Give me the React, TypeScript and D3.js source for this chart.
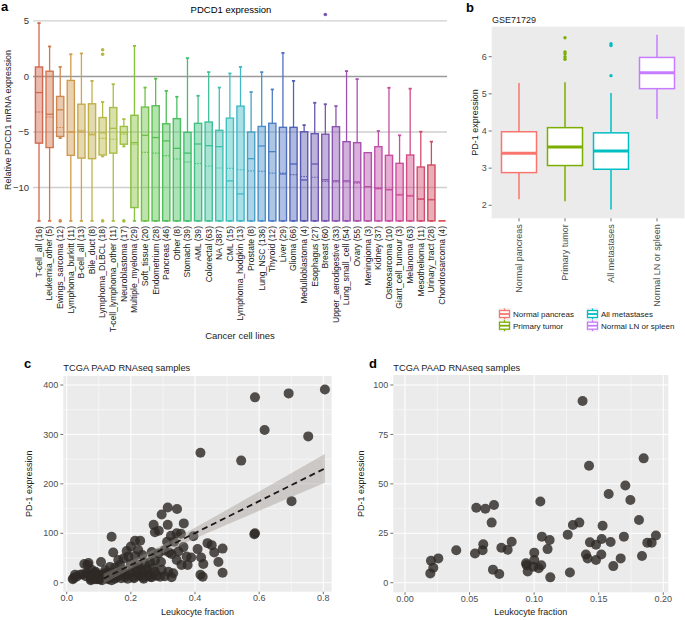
import React from 'react';
import * as d3 from 'd3';

const FONT = '"Liberation Sans", Arial, Helvetica, sans-serif';

// ---------- Panel a data ----------
const aCategories = ['T-cell_all', 'Leukemia_other', 'Ewings_sarcoma', 'Lymphoma_burkitt', 'B-cell_all', 'Bile_duct', 'Lymphoma_DLBCL', 'T-cell_lymphoma_other', 'Neuroblastoma', 'Multiple_myeloma', 'Soft_tissue', 'Endometrium', 'Pancreas', 'Other', 'Stomach', 'AML', 'Colorectal', 'NA', 'CML', 'Lymphoma_hodgkin', 'Prostate', 'Lung_NSC', 'Thyroid', 'Liver', 'Glioma', 'Medulloblastoma', 'Esophagus', 'Breast', 'Upper_aerodigestive', 'Lung_small_cell', 'Ovary', 'Meningioma', 'Kidney', 'Osteosarcoma', 'Giant_cell_tumour', 'Melanoma', 'Mesothelioma', 'Urinary_tract', 'Chondrosarcoma'];
const aCounts = [16, 5, 12, 11, 13, 8, 18, 11, 17, 29, 20, 28, 46, 8, 39, 39, 63, 387, 15, 13, 8, 136, 12, 29, 66, 4, 27, 60, 33, 54, 55, 3, 37, 10, 3, 63, 11, 28, 4];
const aWhiskerHigh = [4.8, 2.7, 0.86, 2.0, 2.07, -0.4, -2.3, -0.7, -3.84, 2.75, -1.0, -0.2, -1.3, -1.83, 1.65, -1.74, 0.39, -1.0, 0.27, 0.86, -1.4, 0.39, -1.17, 2.12, -0.4, -4.38, -2.37, -2.5, -2.67, 0.48, -0.24, -6.86, -4.91, -1.02, -5.3, -1.1, -4.97, -5.87, -13];
const aQ3 = [0.85, 0.47, -1.8, -0.36, -2.5, -2.46, -3.7, -2.8, -4.5, -3.5, -2.76, -2.64, -4.26, -3.8, -5.03, -4.22, -4.1, -4.85, -3.75, -2.67, -5.0, -4.5, -4.22, -4.58, -4.58, -4.98, -5.15, -5.2, -4.52, -5.87, -5.96, -6.86, -6.32, -7.1, -7.82, -7.07, -8.15, -7.97, -13];
const aMedian = [-1.45, -3.4, -3.0, -5.0, -5.0, -5.25, -5.07, -4.67, -5.05, -5.96, -5.3, -5.5, -5.8, -6.47, -6.9, -6.08, -6.23, -6.32, -9.4, -10.57, -7.4, -6.26, -6.77, -8.78, -7.88, -9.32, -7.88, -9.3, -9.4, -9.4, -9.5, -9.92, -10.1, -10.2, -10.67, -10.76, -11.05, -11.1, -13];
const aMean = [-3.2, -3.65, -4.6, -4.95, -4.85, -5.1, -5.57, -5.65, -5.2, -6.1, -6.83, -6.9, -7.13, -7.43, -7.7, -7.83, -8.06, -8.24, -8.27, -8.4, -8.5, -8.54, -8.7, -8.7, -8.84, -9.0, -9.07, -9.45, -9.5, -9.5, -9.6, -9.92, -10.0, -10.15, -10.6, -10.7, -11.0, -11.05, -13];
const aQ1 = [-6.0, -6.4, -5.4, -7.1, -7.35, -7.4, -7.07, -6.9, -6.1, -11.8, -13, -13, -13, -13, -13, -13, -13, -13, -13, -13, -13, -13, -13, -13, -13, -13, -13, -13, -13, -13, -13, -13, -13, -13, -13, -13, -13, -13, -13];
const aWhiskerLow = [-13, -13, -5.55, -13, -13, -13, -7.2, -13, -6.3, -13, -13, -13, -13, -13, -13, -13, -13, -13, -13, -13, -13, -13, -13, -13, -13, -13, -13, -13, -13, -13, -13, -13, -13, -13, -13, -13, -13, -13, -13];
const aOutlierCat = [2, 6, 6, 6, 8, 27];
const aOutlierVal = [-13, 2.4, 2.0, -13, -13, 5.57];
const aTicks = [5, 0, -5, -10];
const aPalette = ['#d0664c', '#d0764e', '#d0884e', '#d09a4e', '#c8a84e', '#c0b04c', '#b8b848', '#a8bc46', '#a0c040', '#88c040', '#70c048', '#58c050', '#50c058', '#48c060', '#40c070', '#40c080', '#40c098', '#40c0b0', '#40c0c0', '#40b8c8', '#48a0c8', '#4a90c8', '#4c80c4', '#5070c0', '#5062b8', '#5a58b0', '#6a56b0', '#7a55b0', '#8a54b0', '#9a50b0', '#a850b0', '#b450a8', '#c050a8', '#c84ca0', '#d04c98', '#d04c88', '#d04c70', '#d04c60', '#e04444'];

// ---------- Panel b data ----------
const bGroups = ['Normal pancreas', 'Primary tumor', 'All metastases', 'Normal LN or spleen'];
const bColors = ['#F8766D', '#7CAE00', '#00BFC4', '#C77CFF'];
const bWhiskerHigh = [5.29, 5.31, 5.02, 6.59];
const bQ3 = [3.98, 4.09, 3.95, 5.98];
const bMedian = [3.40, 3.57, 3.46, 5.57];
const bQ1 = [2.88, 3.07, 2.97, 5.14];
const bWhiskerLow = [2.16, 2.11, 1.89, 4.32];
const bOutlierGroup = [1, 1, 1, 1, 1, 2, 2, 2];
const bOutlierVal = [6.51, 6.13, 6.08, 6.0, 5.93, 6.35, 6.3, 5.49];
const bTicks = [2, 3, 4, 5, 6];

// ---------- Panel c data ----------
const cX = [0.587, 0.692, 0.805, 0.617, 0.753, 0.417, 0.544, 0.701, 0.587, 0.585,
  0.315, 0.344, 0.296, 0.271, 0.315, 0.365, 0.275, 0.287, 0.140, 0.325, 0.343, 0.356, 0.395,
  0.213, 0.229, 0.313, 0.335, 0.145, 0.187, 0.2, 0.223, 0.439, 0.452, 0.408, 0.486, 0.46,
  0.161, 0.177, 0.192, 0.213, 0.236, 0.265, 0.286, 0.304, 0.319, 0.327, 0.348, 0.364, 0.374,
  0.388, 0.419, 0.426, 0.473, 0.486, 0.417, 0.424, 0.068, 0.055, 0.107, 0.135, 0.151, 0.166,
  0.2, 0.223, 0.244, 0.26, 0.275, 0.294, 0.275, 0.296, 0.317, 0.332, 0.343, 0.358, 0.377,
  0.026, 0.021, 0.042, 0.062, 0.078, 0.088, 0.099, 0.109, 0.119, 0.13, 0.145, 0.156, 0.171,
  0.182, 0.197, 0.208, 0.218, 0.229, 0.239, 0.254, 0.265, 0.249, 0.291, 0.306, 0.327, 0.076,
  0.088, 0.104, 0.114, 0.019, 0.064, 0.083, 0.099, 0.075, 0.101, 0.114,
  0.03, 0.05, 0.06, 0.065, 0.08, 0.09, 0.095, 0.11, 0.12, 0.125, 0.13, 0.14, 0.15, 0.155,
  0.16, 0.17, 0.175, 0.185, 0.19, 0.2, 0.21, 0.22, 0.225, 0.235, 0.24, 0.25, 0.26, 0.27, 0.28];
const cY = [375, 383, 391, 309, 296, 263, 247, 165, 100, 98,
  152, 149, 138, 117, 117, 120, 102, 105, 93, 95, 100, 99, 94,
  85, 85, 83, 83, 61, 64, 73, 66, 80, 76, 68, 69, 61,
  46, 49, 53, 54, 56, 62, 59, 65, 61, 58, 63, 72, 53,
  51, 51, 38, 42, 20, 16, 12, 40, 38, 42, 32, 30, 36,
  38, 36, 39, 42, 45, 42, 22, 26, 22, 19, 46, 36, 36,
  16, 9, 16, 19, 26, 20, 12, 11, 19, 7, 16, 11, 20,
  11, 19, 11, 26, 16, 11, 16, 11, 26, 12, 13, 11, 7,
  7, 7, 16, 7, 19, 16, 16, 5, 7, 12,
  12, 17, 13, 36, 10, 22, 7, 5, 25, 9, 20, 5, 8, 22,
  14, 9, 26, 15, 8, 20, 9, 30, 14, 22, 8, 28, 12, 30, 14];
const cFitX = [0.115, 0.2, 0.3, 0.4, 0.5, 0.6, 0.7, 0.805];
const cFitY = [8.3, 35.8, 68.1, 100.4, 132.7, 165, 197.3, 231.2];
const cFitLow = [-1.7, 27.8, 59.6, 89.4, 117.7, 145.5, 173.3, 202.0];
const cFitHigh = [18.3, 43.8, 76.6, 111.4, 147.7, 184.5, 221.3, 260.4];
const cXTicks = [0, 0.2, 0.4, 0.6, 0.8];
const cYTicks = [0, 100, 200, 300, 400];

// ---------- Panel d data ----------
const dX = [0.1375, 0.1425, 0.1848, 0.1706, 0.1577, 0.1745, 0.1812, 0.1048, 0.0689, 0.0552, 0.0622, 0.0671, 0.135, 0.130, 0.153, 0.126, 0.106, 0.112, 0.0826, 0.0746, 0.0795, 0.0397, 0.0606, 0.0601, 0.0542, 0.1001, 0.1104, 0.1695, 0.1432, 0.1479, 0.1523, 0.1592, 0.1876, 0.191, 0.1943, 0.1835, 0.1401, 0.1414, 0.1479, 0.152, 0.167, 0.1613, 0.1001, 0.0937, 0.0942, 0.0994, 0.1035, 0.1055, 0.095, 0.1125, 0.1277, 0.0681, 0.073, 0.0201, 0.0219, 0.0258, 0.0196];
const dY = [91.9, 59.2, 62.9, 49.2, 44.9, 41.8, 31.7, 41.1, 39.3, 37.9, 37.4, 30.4, 30.4, 29.2, 28.8, 24.3, 23.3, 21.6, 20.7, 17.7, 16.7, 16.4, 19.4, 16.4, 14.8, 15.2, 17.0, 23.3, 20.4, 19.2, 22.1, 20.6, 20.2, 20.2, 23.9, 13.5, 14.3, 12.3, 11.5, 14.3, 12.3, 8.4, 11.5, 9.8, 8.8, 8.1, 7.3, 8.8, 5.7, 2.7, 5.2, 6.6, 4.4, 11.1, 7.6, 12.3, 4.7];
const dXTicks = [0, 0.05, 0.1, 0.15, 0.2];
const dYTicks = [0, 25, 50, 75, 100];

// ---------- Panel A ----------
function PanelA() {
  const x = d3.scalePoint<string>().domain(aCategories).range([39, 442]);
  const y = d3.scaleLinear().domain([-13.1, 5.8]).range([222, 12]);
  const color = (i: number) => aPalette[i];
  const bw = 7.2;
  return (
    <g fontFamily={FONT}>
      <text x={1} y={11} fontSize={13} fontWeight="bold">a</text>
      <text x={231} y={13} fontSize={9.5} textAnchor="middle">PDCD1 expression</text>
      {aTicks.map((t) => (
        <g key={t}>
          <line x1={33} x2={447} y1={y(t)} y2={y(t)} stroke={t === 0 ? '#9a9a9a' : '#cfcfcf'} strokeWidth={t === 5 ? 1.2 : 1.6} />
          <text x={29} y={y(t)} dy="0.35em" fontSize={9.5} textAnchor="end" fill="#333">{t === 0 ? '0' : t < 0 ? `\u2212${-t}` : `${t}`}</text>
        </g>
      ))}
      <text transform={`translate(11,${120}) rotate(-90)`} fontSize={9} textAnchor="middle" fill="#222">Relative PDCD1 mRNA expression</text>
      {aCategories.map((c, i) => {
        const cx = x(c) as number;
        const col = color(i);
        const isFlat = aQ3[i] === aQ1[i];
        return (
          <g key={c}>
            {!isFlat && (
              <>
                <line x1={cx} x2={cx} y1={y(aWhiskerHigh[i])} y2={y(aQ3[i])} stroke={col} strokeWidth={1.3} />
                <line x1={cx} x2={cx} y1={y(aQ1[i])} y2={y(aWhiskerLow[i])} stroke={col} strokeWidth={1.3} />
                {aWhiskerHigh[i] > aQ3[i] && <line x1={cx - 1.6} x2={cx + 1.6} y1={y(aWhiskerHigh[i])} y2={y(aWhiskerHigh[i])} stroke={col} strokeWidth={1.8} />}
                <line x1={cx - 1.6} x2={cx + 1.6} y1={y(aWhiskerLow[i])} y2={y(aWhiskerLow[i])} stroke={col} strokeWidth={1.8} />
                <rect x={cx - bw / 2} width={bw} y={y(aQ3[i])} height={y(aQ1[i]) - y(aQ3[i])} fill={col} fillOpacity={0.45} stroke={col} strokeWidth={1.4} />
                <line x1={cx - bw / 2} x2={cx + bw / 2} y1={y(aMedian[i])} y2={y(aMedian[i])} stroke={col} strokeWidth={1.3} />
                <line x1={cx - bw / 2} x2={cx + bw / 2} y1={y(aMean[i])} y2={y(aMean[i])} stroke={col} strokeWidth={1.1} strokeDasharray="1.6,1.2" />
              </>
            )}
            {isFlat && <line x1={cx - bw / 2} x2={cx + bw / 2} y1={y(aQ1[i])} y2={y(aQ1[i])} stroke={col} strokeWidth={1.6} />}
            <text transform={`translate(${cx},226) rotate(-90)`} textAnchor="end" dy="0.33em" fontSize={8.6} fill="#222">{`${c} (${aCounts[i]})`}</text>
          </g>
        );
      })}
      {aOutlierCat.map((ci, k) => (
        <circle key={k} cx={x(aCategories[ci]) as number} cy={y(aOutlierVal[k])} r={1.8} fill={color(ci)} />
      ))}
      <text x={240} y={339} fontSize={9.5} textAnchor="middle" fill="#222">Cancer cell lines</text>
    </g>
  );
}

// ---------- Panel B ----------
function PanelB() {
  const x = d3.scalePoint<string>().domain(bGroups).range([519, 657]);
  const y = d3.scaleLinear().domain([2, 6]).range([205.3, 56.7]);
  const bw = 35;
  const left = 491.7, right = 684.5, top = 26.7, bottom = 218.3;
  const legendPos = [
    { x: 499, y: 314 },
    { x: 499, y: 325.7 },
    { x: 587, y: 314 },
    { x: 587, y: 325.7 },
  ];
  return (
    <g fontFamily={FONT}>
      <text x={466} y={12} fontSize={13} fontWeight="bold">b</text>
      <text x={492} y={23} fontSize={9} fill="#222">GSE71729</text>
      <rect x={left} y={top} width={right - left} height={bottom - top} fill="#EBEBEB" />
      {bTicks.map((t) => (
        <g key={t}>
          <line x1={left - 3} x2={left} y1={y(t)} y2={y(t)} stroke="#4d4d4d" strokeWidth={0.8} />
          <text x={left - 5} y={y(t)} dy="0.35em" fontSize={9} textAnchor="end" fill="#4d4d4d">{t}</text>
        </g>
      ))}
      <text transform={`translate(478,${(top + bottom) / 2}) rotate(-90)`} fontSize={9} textAnchor="middle" fill="#222">PD-1 expression</text>
      {bGroups.map((g, i) => {
        const cx = x(g) as number;
        const col = bColors[i];
        return (
          <g key={g}>
            <line x1={cx} x2={cx} y1={y(bWhiskerHigh[i])} y2={y(bQ3[i])} stroke={col} strokeWidth={1.5} />
            <line x1={cx} x2={cx} y1={y(bQ1[i])} y2={y(bWhiskerLow[i])} stroke={col} strokeWidth={1.5} />
            <rect x={cx - bw / 2} width={bw} y={y(bQ3[i])} height={y(bQ1[i]) - y(bQ3[i])} fill="#fff" stroke={col} strokeWidth={1.5} />
            <line x1={cx - bw / 2} x2={cx + bw / 2} y1={y(bMedian[i])} y2={y(bMedian[i])} stroke={col} strokeWidth={3} />
            <line x1={cx} x2={cx} y1={bottom} y2={bottom + 3} stroke="#4d4d4d" strokeWidth={0.8} />
            <text transform={`translate(${cx},${bottom + 6}) rotate(-90)`} textAnchor="end" dy="0.35em" fontSize={9} fill="#4d4d4d">{g}</text>
          </g>
        );
      })}
      {bOutlierGroup.map((gi, k) => (
        <circle key={k} cx={x(bGroups[gi]) as number} cy={y(bOutlierVal[k])} r={1.7} fill={bColors[gi]} />
      ))}
      {bGroups.map((g, i) => {
        const p = legendPos[i];
        const col = bColors[i];
        return (
          <g key={g}>
            <rect x={p.x - 0.5} y={p.y - 6} width={12} height={12} fill="#f2f2f2" />
            <line x1={p.x + 5.5} x2={p.x + 5.5} y1={p.y - 5.5} y2={p.y + 5.5} stroke={col} strokeWidth={1.3} />
            <rect x={p.x + 0.5} y={p.y - 3.5} width={10} height={7} fill="#fff" stroke={col} strokeWidth={1.3} />
            <line x1={p.x + 0.5} x2={p.x + 10.5} y1={p.y} y2={p.y} stroke={col} strokeWidth={1.8} />
            <text x={p.x + 14} y={p.y} dy="0.35em" fontSize={8} fill="#222">{g}</text>
          </g>
        );
      })}
    </g>
  );
}

// ---------- Scatter panels ----------
type ScatterProps = {
  letter: string;
  letterX: number;
  xs: number[];
  ys: number[];
  xDomain: [number, number];
  xRange: [number, number];
  yDomain: [number, number];
  yRange: [number, number];
  rect: { left: number; right: number; top: number; bottom: number };
  xTicks: number[];
  yTicks: number[];
  xFmt: (v: number) => string;
  yLabelX: number;
  fit?: boolean;
};

function Scatter(p: ScatterProps) {
  const x = d3.scaleLinear().domain(p.xDomain).range(p.xRange);
  const y = d3.scaleLinear().domain(p.yDomain).range(p.yRange);
  const { left, right, top, bottom } = p.rect;
  const xMinor = p.xTicks.slice(0, -1).map((t, i) => (t + p.xTicks[i + 1]) / 2);
  const yMinor = p.yTicks.slice(0, -1).map((t, i) => (t + p.yTicks[i + 1]) / 2);
  const clipId = `clip-${p.letter}`;
  const area = d3.area<number>().x((_, i) => x(cFitX[i])).y0((_, i) => y(cFitLow[i])).y1((_, i) => y(cFitHigh[i]));
  const line = d3.line<number>().x((_, i) => x(cFitX[i])).y((_, i) => y(cFitY[i]));
  return (
    <g fontFamily={FONT}>
      <defs>
        <clipPath id={clipId}>
          <rect x={left} y={top} width={right - left} height={bottom - top} />
        </clipPath>
      </defs>
      <text x={p.letterX} y={368} fontSize={13} fontWeight="bold">{p.letter}</text>
      <text x={left} y={371} fontSize={9.3} fill="#222">TCGA PAAD RNAseq samples</text>
      <rect x={left} y={top} width={right - left} height={bottom - top} fill="#EBEBEB" />
      {xMinor.map((t) => <line key={`xm${t}`} x1={x(t)} x2={x(t)} y1={top} y2={bottom} stroke="#fff" strokeWidth={0.5} />)}
      {yMinor.map((t) => <line key={`ym${t}`} x1={left} x2={right} y1={y(t)} y2={y(t)} stroke="#fff" strokeWidth={0.5} />)}
      {p.xTicks.map((t) => <line key={`xg${t}`} x1={x(t)} x2={x(t)} y1={top} y2={bottom} stroke="#fff" strokeWidth={1} />)}
      {p.yTicks.map((t) => <line key={`yg${t}`} x1={left} x2={right} y1={y(t)} y2={y(t)} stroke="#fff" strokeWidth={1} />)}
      {p.xTicks.map((t) => (
        <g key={`xt${t}`}>
          <line x1={x(t)} x2={x(t)} y1={bottom} y2={bottom + 2.5} stroke="#4d4d4d" strokeWidth={0.8} />
          <text x={x(t)} y={bottom + 9.5} fontSize={9} textAnchor="middle" fill="#4d4d4d">{p.xFmt(t)}</text>
        </g>
      ))}
      {p.yTicks.map((t) => (
        <g key={`yt${t}`}>
          <line x1={left - 3} x2={left} y1={y(t)} y2={y(t)} stroke="#4d4d4d" strokeWidth={0.8} />
          <text x={left - 5} y={y(t)} dy="0.35em" fontSize={9} textAnchor="end" fill="#4d4d4d">{t}</text>
        </g>
      ))}
      <g clipPath={`url(#${clipId})`}>
        {p.xs.map((v, i) => (
          <circle key={i} cx={x(v)} cy={y(p.ys[i])} r={5} fill="#2e2a26" fillOpacity={0.82} />
        ))}
        {p.fit && (
          <>
            <path d={area(cFitX) || ''} fill="#9a938c" fillOpacity={0.4} />
            <path d={line(cFitX) || ''} fill="none" stroke="#1a1a1a" strokeWidth={1.8} strokeDasharray="6,4" />
          </>
        )}
      </g>
      <text transform={`translate(${p.yLabelX},${(top + bottom) / 2}) rotate(-90)`} fontSize={9} textAnchor="middle" fill="#222">PD-1 expression</text>
      <text x={(left + right) / 2} y={615} fontSize={9} textAnchor="middle" fill="#222">Leukocyte fraction</text>
    </g>
  );
}

export default function App() {
  return (
    <svg width={685} height={620} style={{ position: 'absolute', left: 0, top: 0, background: '#fff' }}>
      <PanelA />
      <PanelB />
      <Scatter
        letter="c" letterX={24} xs={cX} ys={cY}
        xDomain={[0, 0.8]} xRange={[66.7, 323.3]} yDomain={[0, 400]} yRange={[582.7, 385]}
        rect={{ left: 63.3, right: 331.7, top: 376, bottom: 591.7 }}
        xTicks={cXTicks} yTicks={cYTicks} xFmt={(v) => v.toFixed(1)} yLabelX={32} fit
      />
      <Scatter
        letter="d" letterX={369} xs={dX} ys={dY}
        xDomain={[0, 0.2]} xRange={[405, 663.3]} yDomain={[0, 100]} yRange={[582.7, 385]}
        rect={{ left: 393.3, right: 668.3, top: 375, bottom: 592.3 }}
        xTicks={dXTicks} yTicks={dYTicks} xFmt={(v) => v.toFixed(2)} yLabelX={364}
      />
    </svg>
  );
}
